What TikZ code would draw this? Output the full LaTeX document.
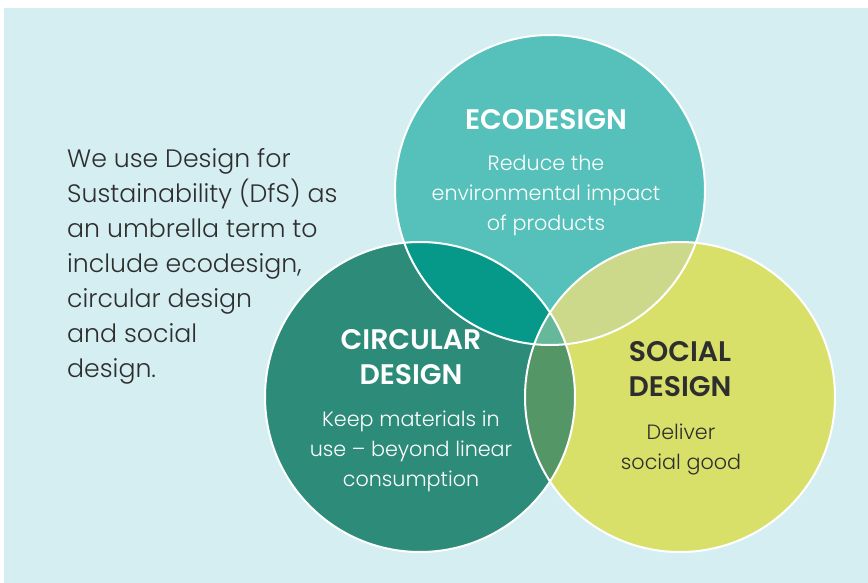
\documentclass[tikz,border=0pt]{standalone}
\usepackage{fontspec}
\IfFontExistsTF{Poppins Light}
  {\setmainfont{Poppins Light}[BoldFont={Poppins SemiBold}]}
  {\setmainfont{Poppins}}
\begin{document}
\begin{tikzpicture}[x=1pt,y=-1pt,
  bodytext/.style={font=\fontsize{20.7}{30}\selectfont, align=center, inner sep=0pt},
  headtext/.style={font=\fontsize{28.3}{35}\selectfont\bfseries, align=center, inner sep=0pt},
  ring/.style={draw=white, line width=2pt}]
\definecolor{bgc}{HTML}{D5EEF2}
\definecolor{ecoc}{HTML}{55C1BA}
\definecolor{circc}{HTML}{2D8B79}
\definecolor{socc}{HTML}{D8E06A}
\definecolor{ecircc}{HTML}{06998A}
\definecolor{esocc}{HTML}{CDD98A}
\definecolor{csocc}{HTML}{559667}
\definecolor{allc}{HTML}{66B89B}
\definecolor{darktext}{HTML}{2E2E2E}
\useasboundingbox (0,0) rectangle (868,583);
\fill[bgc] (4,8) rectangle (868,583);
\coordinate (E) at (550,190);
\coordinate (C) at (420,397);
\coordinate (S) at (680,397);
\fill[ecoc] (E) circle[radius=155];
\fill[circc] (C) circle[radius=155];
\fill[socc] (S) circle[radius=155];
\begin{scope}
  \clip (E) circle[radius=155];
  \fill[ecircc] (C) circle[radius=155];
  \fill[esocc] (S) circle[radius=155];
\end{scope}
\begin{scope}
  \clip (C) circle[radius=155];
  \fill[csocc] (S) circle[radius=155];
  \clip (E) circle[radius=155];
  \fill[allc] (S) circle[radius=155];
\end{scope}
\draw[ring] (E) circle[radius=155];
\draw[ring] (C) circle[radius=155];
\draw[ring] (S) circle[radius=155];
% headings
\node[headtext, text=white] (ecoh) at (546,120) {ECODESIGN};
\node[bodytext, text=white] (ecob) at (546,196) {Reduce the\\environmental impact\\of products};
\node[headtext, text=white] (circh) at (411,357) {CIRCULAR\\DESIGN};
\node[bodytext, text=white] (circb) at (411,451) {Keep materials in\\use -- beyond linear\\consumption};
\node[headtext, text=darktext] (soch) at (680,369) {SOCIAL\\DESIGN};
\node[bodytext, text=darktext] (socb) at (681,449) {Deliver\\social good};
% left text
\node[font=\fontsize{25.2}{35}\selectfont, align=left, anchor=north west, inner sep=0pt, text=darktext] (intro) at (67,148)
  {We use Design for\\Sustainability (DfS) as\\an umbrella term to\\include ecodesign,\\circular design\\and social\\design.};
\end{tikzpicture}
\end{document}
